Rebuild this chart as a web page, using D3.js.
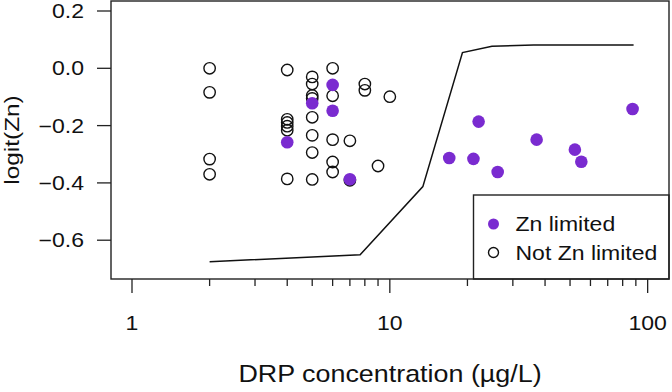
<!DOCTYPE html>
<html>
<head>
<meta charset="utf-8">
<script src="https://cdn.jsdelivr.net/npm/d3@7"></script>
<style>
  body { margin: 0; background: #fff; }
  text { font-family: "Liberation Sans", Arial, Helvetica, sans-serif; fill: #111; }
</style>
</head>
<body>
<div class="canvas"></div>
<script>
// data
const notLimitedDRP = [2, 2, 2, 2, 4, 4, 4, 4, 4, 4, 5, 5, 5, 5, 5, 5, 5, 5, 6, 6, 6, 6, 6, 7, 7, 8, 8, 9, 10];
const notLimitedZn = [0.0, -0.084, -0.317, -0.37, -0.006, -0.178, -0.189, -0.202, -0.216, -0.386,
  -0.03, -0.055, -0.095, -0.105, -0.171, -0.234, -0.294, -0.388,
  0.0, -0.096, -0.249, -0.327, -0.362, -0.253, -0.391, -0.055, -0.077, -0.341, -0.099];

const limitedDRP = [4, 5, 6, 6, 7, 17.0, 21.1, 22.1, 26.2, 37.1, 52.2, 55.3, 87.4];
const limitedZn = [-0.258, -0.122, -0.058, -0.148, -0.387, -0.313, -0.316, -0.186, -0.362, -0.249, -0.284, -0.326, -0.142];

const curveDRP = [2, 7.67, 13.43, 19.13, 24.9, 36.1, 88.2];
const curveZn = [-0.675, -0.651, -0.413, 0.055, 0.077, 0.081, 0.081];

const yTicks = [0.2, 0.0, -0.2, -0.4, -0.6];
const xMajor = [1, 10, 100];
const xMinor = [2, 3, 4, 5, 6, 7, 8, 9, 20, 30, 40, 50, 60, 70, 80, 90];
const legendLabels = ["Zn limited", "Not Zn limited"];

const purple = "#7a2bd0";
const width = 672;
const height = 392;
// plot box edges
const box = { left: 111, right: 669, top: 1, bottom: 279 };
// the original type is wider than Liberation Sans, so stretch along the text
const stretch = 1.18;

const svg = d3
  .select(".canvas")
  .append("svg")
  .attr("width", width)
  .attr("height", height);

// scales
const x = d3.scaleLog().domain([0.829, 121]).range([box.left, box.right]);
const y = d3.scaleLinear().domain([-0.7354, 0.2349]).range([box.bottom, box.top]);
const fmt = d3.format(".1f");

// y axis ticks and labels
const yAxis = svg.append("g");
yAxis.selectAll("line")
  .data(yTicks)
  .enter()
  .append("line")
  .attr("x1", box.left - 14)
  .attr("x2", box.left)
  .attr("y1", d => y(d))
  .attr("y2", d => y(d))
  .attr("stroke", "#222")
  .attr("stroke-width", 1.3);
yAxis.selectAll("text")
  .data(yTicks)
  .enter()
  .append("text")
  .attr("transform", d => `translate(84, ${y(d)}) scale(${stretch}, 1)`)
  .attr("dy", "0.36em")
  .attr("text-anchor", "end")
  .attr("font-size", 19.5)
  .text(d => fmt(d));

// x axis ticks and labels
const xAxis = svg.append("g");
xAxis.selectAll("line.major")
  .data(xMajor)
  .enter()
  .append("line")
  .attr("class", "major")
  .attr("x1", d => x(d))
  .attr("x2", d => x(d))
  .attr("y1", box.bottom)
  .attr("y2", box.bottom + 14)
  .attr("stroke", "#222")
  .attr("stroke-width", 1.3);
xAxis.selectAll("line.minor")
  .data(xMinor)
  .enter()
  .append("line")
  .attr("class", "minor")
  .attr("x1", d => x(d))
  .attr("x2", d => x(d))
  .attr("y1", box.bottom)
  .attr("y2", box.bottom + 7)
  .attr("stroke", "#222")
  .attr("stroke-width", 1.3);
xAxis.selectAll("text")
  .data(xMajor)
  .enter()
  .append("text")
  .attr("transform", d => `translate(${x(d)}, 330) scale(${stretch}, 1)`)
  .attr("text-anchor", "middle")
  .attr("font-size", 19.5)
  .text(d => d);

// axis titles
svg.append("text")
  .attr("transform", `translate(${(box.left + box.right) / 2}, 382) scale(1.12, 1)`)
  .attr("text-anchor", "middle")
  .attr("font-size", 24)
  .text("DRP concentration (\u00b5g/L)");
svg.append("text")
  .attr("transform", `translate(18.5, ${(box.top + box.bottom) / 2}) rotate(-90) scale(1.22, 1)`)
  .attr("text-anchor", "middle")
  .attr("font-size", 20)
  .text("logit(Zn)");

// fitted line
const line = d3.line()
  .x(d => x(d[0]))
  .y(d => y(d[1]));
svg.append("path")
  .datum(curveDRP.map((d, i) => [d, curveZn[i]]))
  .attr("fill", "none")
  .attr("stroke", "#111")
  .attr("stroke-width", 1.5)
  .attr("d", line);

// open points first, filled on top
svg.append("g")
  .selectAll("circle")
  .data(notLimitedDRP.map((d, i) => [d, notLimitedZn[i]]))
  .enter()
  .append("circle")
  .attr("cx", d => x(d[0]))
  .attr("cy", d => y(d[1]))
  .attr("r", 5.7)
  .attr("fill", "none")
  .attr("stroke", "#111")
  .attr("stroke-width", 1.4);

svg.append("g")
  .selectAll("circle")
  .data(limitedDRP.map((d, i) => [d, limitedZn[i]]))
  .enter()
  .append("circle")
  .attr("cx", d => x(d[0]))
  .attr("cy", d => y(d[1]))
  .attr("r", 6.3)
  .attr("fill", purple);

// legend
const legend = svg.append("g");
legend.append("rect")
  .attr("x", 473.5)
  .attr("y", 195)
  .attr("width", box.right - 473.5)
  .attr("height", box.bottom - 195)
  .attr("fill", "#fff")
  .attr("stroke", "#222")
  .attr("stroke-width", 1.4);
legend.append("circle")
  .attr("cx", 493.5)
  .attr("cy", 224)
  .attr("r", 5.5)
  .attr("fill", purple);
legend.append("circle")
  .attr("cx", 493.5)
  .attr("cy", 252.5)
  .attr("r", 5)
  .attr("fill", "none")
  .attr("stroke", "#111")
  .attr("stroke-width", 1.4);
legend.selectAll("text")
  .data(legendLabels)
  .enter()
  .append("text")
  .attr("transform", (d, i) => `translate(515.5, ${224 + i * 28.5}) scale(${stretch}, 1)`)
  .attr("dy", "0.36em")
  .attr("font-size", 19.5)
  .text(d => d);

// plot box
svg.append("rect")
  .attr("x", box.left)
  .attr("y", box.top)
  .attr("width", box.right - box.left)
  .attr("height", box.bottom - box.top)
  .attr("fill", "none")
  .attr("stroke", "#222")
  .attr("stroke-width", 1.4);
</script>
</body>
</html>
